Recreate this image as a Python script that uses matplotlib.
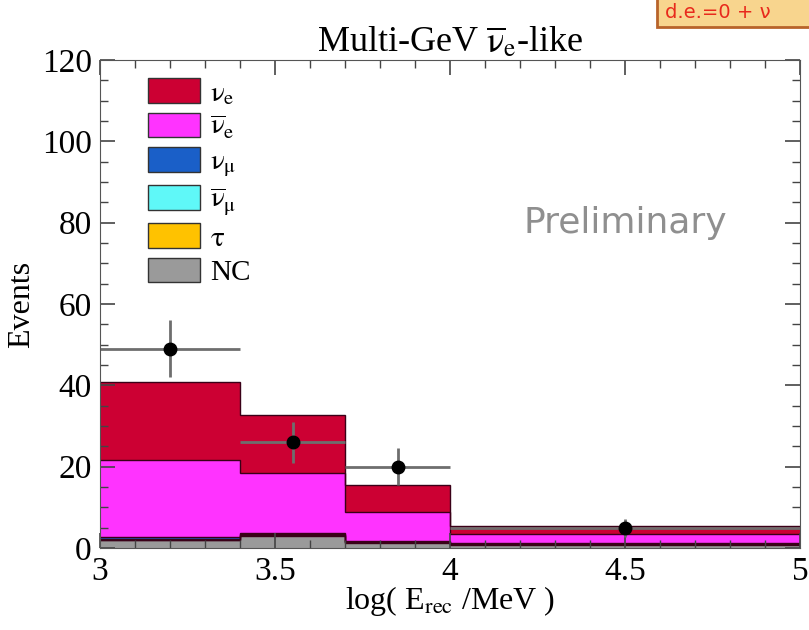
import numpy as np
import matplotlib
matplotlib.use("Agg")
import matplotlib.pyplot as plt
from matplotlib.patches import Patch, Rectangle
from matplotlib.ticker import MultipleLocator, FuncFormatter

plt.rcParams['font.family'] = ['Liberation Serif', 'DejaVu Serif']
plt.rcParams['mathtext.fontset'] = 'stix'

# bin edges in log(E_rec/MeV)
edges = [3.0, 3.4, 3.7, 4.0, 5.0]

# MC components per bin (events), stacked bottom -> top
nc = [2.0, 3.0, 1.3, 0.8]
tau = [0.1, 0.3, 0.1, 0.1]
numubar = [0.1, 0.1, 0.05, 0.05]
numu = [0.5, 0.2, 0.4, 0.4]
nuebar = [18.9, 14.8, 7.0, 2.0]
nue = [19.2, 14.3, 6.6, 2.2]

# data points
data_x = [3.2, 3.55, 3.85, 4.5]
data_xerr = [0.2, 0.15, 0.15, 0.5]
data_y = [49, 26, 20, 5]
data_yerr = [7, 5, 4.5, 2.2]

comps = [
    (nc, '#9a9a9a', 'NC'),
    (tau, '#ffc200', r'$\mathrm{\tau}$'),
    (numubar, '#5ff8f8', r'$\overline{\mathrm{\nu}}_{\mathrm{\mu}}$'),
    (numu, '#1a5fc8', r'$\mathrm{\nu}_{\mathrm{\mu}}$'),
    (nuebar, '#ff33ff', r'$\overline{\mathrm{\nu}}_{\mathrm{e}}$'),
    (nue, '#cc0033', r'$\mathrm{\nu}_{\mathrm{e}}$'),
]

fig = plt.figure(figsize=(8.09, 6.3), dpi=100)
ax = fig.add_axes([0.1236, 0.130, 0.8654, 0.775])

base = np.zeros(len(nc))
for vals, col, lab in comps:
    top = base + np.array(vals)
    ax.stairs(top, edges, baseline=base, fill=True, color=col, zorder=1)
    ax.stairs(top, edges, baseline=None, color='#3a0018', lw=1.0, zorder=2)
    base = top

ax.errorbar(data_x, data_y, xerr=data_xerr, yerr=data_yerr, fmt='o',
            color='black', ecolor='#6e6e6e', elinewidth=2, markersize=9,
            capsize=0, zorder=4)

ax.set_xlim(3, 5)
ax.set_ylim(0, 120)
ax.xaxis.set_major_locator(MultipleLocator(0.5))
ax.xaxis.set_minor_locator(MultipleLocator(0.1))
ax.yaxis.set_major_locator(MultipleLocator(20))
ax.yaxis.set_minor_locator(MultipleLocator(5))
ax.xaxis.set_major_formatter(FuncFormatter(lambda v, p: f'{v:g}'))
ax.tick_params(which='both', direction='in', top=True, right=True,
               labelsize=24, color='#444444')
ax.tick_params(which='major', length=11, width=1.2)
ax.tick_params(which='minor', length=6, width=1.0)
ax.tick_params(axis='x', pad=6)
ax.tick_params(axis='y', pad=6)
for s in ax.spines.values():
    s.set_color('#555555')
    s.set_zorder(6)
ax.set_axisbelow(False)

ax.set_xlabel(r'log( E$_{\mathrm{rec}}$ /MeV )', fontsize=23, labelpad=-2)
ax.set_ylabel('Events', fontsize=23, labelpad=4)
ax.set_title(r'Multi-GeV $\overline{\mathrm{\nu}}_{\mathrm{e}}$-like', fontsize=26, pad=4)

handles = [Patch(facecolor=c, edgecolor='#333333', lw=1) for _, c, _ in comps][::-1]
labels = [l for _, _, l in comps][::-1]
ax.legend(handles, labels, loc='upper left', bbox_to_anchor=(0.068, 0.962),
          frameon=False, fontsize=21, handlelength=1.8, handleheight=0.93,
          labelspacing=0.2, handletextpad=0.35, borderpad=0, borderaxespad=0)

ax.text(4.5, 80, 'Preliminary', fontsize=26, color='#8f8f8f',
        family='DejaVu Sans', ha='center', va='center')

# orange note box cut by the top-right corner of the slide
fig.patches.append(Rectangle((657 / 809, 1 - 27 / 630), 0.2, 0.1,
                             transform=fig.transFigure, facecolor='#f8d58e',
                             edgecolor='#b8632a', lw=2, zorder=10))
fig.text(665 / 809, 1 - 13 / 630, 'd.e.=0 + \u03bd', fontsize=14,
         color='#e8291c', family='DejaVu Sans', va='center', ha='left',
         zorder=11)

fig.savefig('out.png', dpi=100)
